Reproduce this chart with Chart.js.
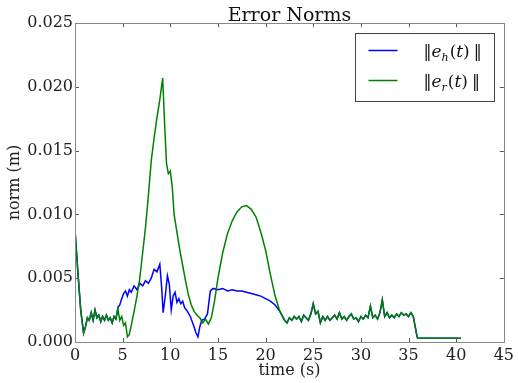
<!DOCTYPE html>
<html>
<head>
<meta charset="utf-8">
<title>Error Norms</title>
<script src="https://cdn.jsdelivr.net/npm/chart.js@4.4.0/dist/chart.umd.min.js"></script>
<style>
  html, body { margin: 0; padding: 0; background: #fff; }
  #wrap { width: 518px; height: 383px; position: relative; }
</style>
</head>
<body>
<div id="wrap"><canvas id="normChart"></canvas></div>
<script>
// time (s) / norm (m)
// 0 - 4.3 s: both norms lie on top of each other
const startT    = [0, 0.3, 0.6, 0.9, 1.1, 1.3, 1.5, 1.7, 1.9, 2.1, 2.3, 2.5, 2.7, 2.9, 3.1, 3.3, 3.5, 3.7, 3.9, 4.1, 4.3];
const startNorm = [0.0088, 0.0055, 0.0025, 0.0007, 0.0012, 0.0019, 0.0017, 0.0023, 0.0017, 0.0025, 0.0019, 0.0021, 0.0016, 0.0020, 0.0017, 0.0021, 0.0017, 0.0019, 0.0015, 0.0020, 0.0018];

// ||e_r(t)|| from 4.5 to 22 s
const erMidT    = [4.5, 4.7, 4.9, 5.1, 5.3, 5.5, 5.7, 5.9, 6.2, 6.5, 6.8, 7.1, 7.4, 7.7, 8.0, 8.3, 8.6, 8.9, 9.2, 9.4, 9.6, 9.8, 10.0, 10.2, 10.4, 10.7, 11.0, 11.3, 11.6, 11.9, 12.2, 12.5, 12.8, 13.1, 13.4, 13.7, 14.0, 14.3, 14.6, 15.0, 15.5, 16.0, 16.5, 17.0, 17.5, 18.0, 18.5, 19.0, 19.5, 20.0, 20.5, 21.0, 21.5, 22.0];
const erMidNorm = [0.0026, 0.0017, 0.0020, 0.0013, 0.0015, 0.0004, 0.0006, 0.0013, 0.0024, 0.0036, 0.0050, 0.0070, 0.0090, 0.0115, 0.0142, 0.0160, 0.0176, 0.0190, 0.0207, 0.0172, 0.0140, 0.0132, 0.0134, 0.0122, 0.0100, 0.0086, 0.0072, 0.0060, 0.0048, 0.0037, 0.0029, 0.0024, 0.0021, 0.0019, 0.0015, 0.0018, 0.0014, 0.0019, 0.0030, 0.0050, 0.0070, 0.0085, 0.0095, 0.0102, 0.0106, 0.0107, 0.0104, 0.0098, 0.0086, 0.0072, 0.0053, 0.0036, 0.0024, 0.0017];

// ||e_h(t)|| from 4.5 to 22 s
const ehMidT    = [4.5, 4.7, 4.9, 5.1, 5.3, 5.5, 5.7, 5.9, 6.2, 6.5, 6.8, 7.1, 7.4, 7.7, 8.0, 8.3, 8.6, 8.9, 9.1, 9.25, 9.5, 9.7, 9.9, 10.1, 10.3, 10.5, 10.7, 10.9, 11.1, 11.3, 11.5, 11.8, 12.1, 12.4, 12.7, 12.9, 13.1, 13.3, 13.6, 13.9, 14.2, 14.5, 15.0, 15.5, 16.0, 16.5, 17.0, 17.5, 18.0, 18.5, 19.0, 19.5, 20.0, 20.5, 21.0, 21.5, 22.0];
const ehMidNorm = [0.0027, 0.0029, 0.0034, 0.0038, 0.0040, 0.0036, 0.0041, 0.0039, 0.0044, 0.0041, 0.0046, 0.0044, 0.0048, 0.0046, 0.0050, 0.0057, 0.0055, 0.0061, 0.0042, 0.0023, 0.0038, 0.0052, 0.0045, 0.0025, 0.0036, 0.0039, 0.0031, 0.0034, 0.0030, 0.0032, 0.0027, 0.0024, 0.0020, 0.0014, 0.0007, 0.0004, 0.0012, 0.0017, 0.0018, 0.0022, 0.0040, 0.0042, 0.0041, 0.0042, 0.0040, 0.0041, 0.0040, 0.0040, 0.0039, 0.0038, 0.0037, 0.0036, 0.0034, 0.0032, 0.0029, 0.0024, 0.0017];

// 22.25 s to the end: both norms overlap again
const tailT    = [22.25, 22.5, 22.75, 23.0, 23.25, 23.5, 23.75, 24.0, 24.25, 24.5, 24.75, 25.0, 25.25, 25.5, 25.75, 26.0, 26.25, 26.5, 26.75, 27.0, 27.25, 27.5, 27.75, 28.0, 28.25, 28.5, 28.75, 29.0, 29.25, 29.5, 29.75, 30.0, 30.25, 30.5, 30.75, 31.0, 31.25, 31.5, 31.75, 32.0, 32.25, 32.5, 32.75, 33.0, 33.25, 33.5, 33.75, 34.0, 34.25, 34.5, 34.75, 35.0, 35.25, 35.5, 35.7, 35.9, 36.0, 40.5];
const tailNorm = [0.0015, 0.0019, 0.0017, 0.0020, 0.0018, 0.0020, 0.0016, 0.0021, 0.0019, 0.0017, 0.0022, 0.0030, 0.0022, 0.0024, 0.0015, 0.0020, 0.0017, 0.0020, 0.0017, 0.0019, 0.0021, 0.0018, 0.0023, 0.0018, 0.0020, 0.0017, 0.0020, 0.0022, 0.0018, 0.0019, 0.0016, 0.0020, 0.0018, 0.0021, 0.0019, 0.0028, 0.0019, 0.0021, 0.0018, 0.0023, 0.0033, 0.0020, 0.0023, 0.0019, 0.0021, 0.0019, 0.0022, 0.0020, 0.0023, 0.0021, 0.0022, 0.0020, 0.0023, 0.0020, 0.0012, 0.0004, 0.0003, 0.0003];

const xTicks = { min: 0, max: 45, step: 5 };
const yTicks = { min: 0, max: 0.025, step: 0.005 };

const seriesLabels = [
  { name: 'e_h', sub: 'h', color: '#0000ff' },
  { name: 'e_r', sub: 'r', color: '#008000' }
];

function toPoints(tArrays, vArrays) {
  const pts = [];
  tArrays.forEach((ts, k) => {
    ts.forEach((t, i) => pts.push({ x: t, y: vArrays[k][i] }));
  });
  return pts;
}

const ehData = toPoints([startT, ehMidT, tailT], [startNorm, ehMidNorm, tailNorm]);
const erData = toPoints([startT, erMidT, tailT], [startNorm, erMidNorm, tailNorm]);

const SERIF = '"DejaVu Serif", serif';

// frame, inward ticks on all four sides, and the legend inside the axes
const framePlugin = {
  id: 'frame',
  afterDatasetsDraw(chart) {
    const { ctx, chartArea: a, scales } = chart;
    ctx.save();
    ctx.strokeStyle = '#555';
    ctx.lineWidth = 1;
    ctx.beginPath();
    scales.x.ticks.forEach(tk => {
      const px = Math.round(scales.x.getPixelForValue(tk.value)) + 0.5;
      ctx.moveTo(px, a.bottom); ctx.lineTo(px, a.bottom - 4);
      ctx.moveTo(px, a.top); ctx.lineTo(px, a.top + 4);
    });
    scales.y.ticks.forEach(tk => {
      const py = Math.round(scales.y.getPixelForValue(tk.value)) + 0.5;
      ctx.moveTo(a.left, py); ctx.lineTo(a.left + 4, py);
      ctx.moveTo(a.right, py); ctx.lineTo(a.right - 4, py);
    });
    ctx.stroke();
    ctx.strokeStyle = '#888';
    ctx.strokeRect(Math.round(a.left) + 0.5, Math.round(a.top) + 0.5,
                   Math.round(a.right - a.left), Math.round(a.bottom - a.top));

    // legend box
    const bw = 139, bh = 68;
    const bx = Math.round(a.right) - 10 - bw + 0.5;
    const by = Math.round(a.top) + 10 + 0.5;
    ctx.fillStyle = '#fff';
    ctx.fillRect(bx, by, bw, bh);
    ctx.strokeStyle = '#444';
    ctx.strokeRect(bx, by, bw, bh);

    seriesLabels.forEach((s, i) => {
      const ly = by + 17 + i * 30;
      ctx.strokeStyle = s.color;
      ctx.lineWidth = 1.5;
      ctx.beginPath();
      ctx.moveTo(bx + 13, ly); ctx.lineTo(bx + 42, ly);
      ctx.stroke();

      // ||e_h(t) ||
      let x = bx + 68;
      const base = ly + 6;
      ctx.fillStyle = '#111';
      ctx.textBaseline = 'alphabetic';
      ctx.textAlign = 'left';
      const part = (txt, font, dy) => {
        ctx.font = font;
        ctx.fillText(txt, x, base + (dy || 0));
        x += ctx.measureText(txt).width;
      };
      part('\u2016', '16px ' + SERIF);
      part('e', 'italic 17px ' + SERIF);
      part(s.sub, 'italic 11px ' + SERIF, 4);
      x += 1;
      part('(', '17px ' + SERIF);
      part('t', 'italic 17px ' + SERIF);
      part(')', '17px ' + SERIF);
      x += 4;
      part('\u2016', '16px ' + SERIF);
    });
    ctx.restore();
  }
};

new Chart(document.getElementById('normChart'), {
  type: 'line',
  data: {
    datasets: [
      {
        label: '||e_h(t)||',
        data: ehData,
        borderColor: seriesLabels[0].color,
        borderWidth: 1.5,
        pointRadius: 0,
        tension: 0,
        order: 1
      },
      {
        label: '||e_r(t)||',
        data: erData,
        borderColor: seriesLabels[1].color,
        borderWidth: 1.5,
        pointRadius: 0,
        tension: 0,
        order: 0
      }
    ]
  },
  options: {
    responsive: true,
    maintainAspectRatio: false,
    animation: false,
    layout: { padding: { left: 0, right: 11, top: 0, bottom: 0 } },
    plugins: {
      legend: { display: false },
      tooltip: { enabled: false },
      title: {
        display: true,
        text: 'Error Norms',
        fullSize: false,
        color: '#111',
        font: { family: SERIF, size: 19, weight: 'normal', lineHeight: 0.8 },
        padding: { top: 8, bottom: 0 }
      }
    },
    scales: {
      x: {
        type: 'linear',
        min: xTicks.min,
        max: xTicks.max,
        afterFit(scale) { scale.height = 41; },
        grid: { display: false, drawTicks: false },
        border: { display: false },
        ticks: {
          stepSize: xTicks.step,
          padding: 4,
          color: '#222',
          maxRotation: 0,
          font: { family: SERIF, size: 16 }
        },
        title: {
          display: true,
          text: 'time (s)',
          color: '#222',
          font: { family: SERIF, size: 16 },
          padding: { top: 0, bottom: 3 }
        }
      },
      y: {
        min: yTicks.min,
        max: yTicks.max,
        afterFit(scale) { scale.width = 75; },
        grid: { display: false, drawTicks: false },
        border: { display: false },
        ticks: {
          stepSize: yTicks.step,
          padding: 2,
          color: '#222',
          font: { family: SERIF, size: 16 },
          callback: v => Number(v).toFixed(3)
        },
        title: {
          display: true,
          text: 'norm (m)',
          color: '#222',
          font: { family: SERIF, size: 16 },
          padding: { top: 5, bottom: 0 }
        }
      }
    }
  },
  plugins: [framePlugin]
});
</script>
</body>
</html>
